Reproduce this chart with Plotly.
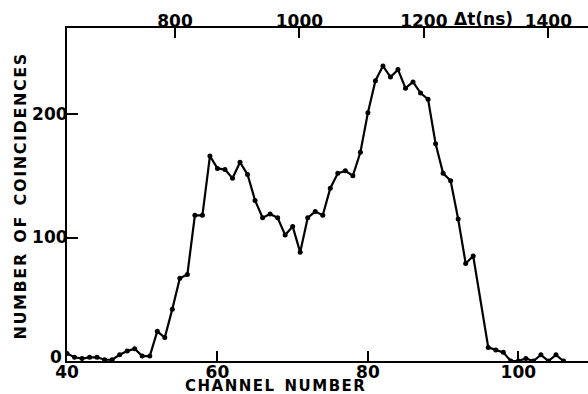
import plotly.graph_objects as go

channels = [40, 41, 42, 43, 44, 45, 46, 47, 48, 49, 50, 51, 52, 53, 54, 55, 56, 57, 58, 59,
            60, 61, 62, 63, 64, 65, 66, 67, 68, 69, 70, 71, 72, 73, 74, 75, 76, 77, 78, 79,
            80, 81, 82, 83, 84, 85, 86, 87, 88, 89, 90, 91, 92, 93, 94, 96, 97, 98, 99, 100,
            101, 102, 103, 104, 105, 106]
counts = [6, 3, 2, 3, 3, 1, 1, 5, 8, 10, 4, 4, 24, 19, 42, 67, 70, 118, 118, 166,
          156, 155, 148, 161, 151, 130, 116, 119, 116, 102, 109, 88, 116, 121, 118, 140, 152, 154, 150, 169,
          201, 227, 239, 230, 236, 221, 226, 217, 212, 176, 152, 146, 115, 79, 85, 11, 9, 7, 0, 0,
          2, 0, 5, 0, 5, 0]

bottom_ticks = [40, 60, 80, 100]
top_ticks = [800, 1000, 1200, 1400]
y_ticks = [0, 100, 200]

FONT = "DejaVu Sans"
HS = "\u200a"  # hair space for letter spacing


def spaced(s):
    return HS.join(list(s))


def bold(s):
    return "<b>" + s + "</b>"


fig = go.Figure()
fig.add_trace(go.Scatter(
    x=channels, y=counts, mode="lines+markers",
    line=dict(color="black", width=2.2),
    marker=dict(color="black", size=5),
    showlegend=False, hoverinfo="skip",
))
# invisible trace to activate the top axis
fig.add_trace(go.Scatter(x=[800], y=[0], xaxis="x2", mode="markers",
                         marker=dict(opacity=0), showlegend=False, hoverinfo="skip"))

# y tick labels: the "0" label sits slightly raised above the corner, as in the original
y_ticktext = ["" if t == 0 else bold(str(t)) for t in y_ticks]

fig.update_layout(
    width=588, height=394,
    margin=dict(l=67, r=0, t=28, b=33),
    paper_bgcolor="white", plot_bgcolor="white",
    font=dict(family=FONT, color="black", size=15),
    xaxis=dict(
        range=[40, 109.26], tickvals=bottom_ticks, ticktext=[bold(str(t)) for t in bottom_ticks],
        ticks="inside", ticklen=10, tickwidth=2, tickcolor="black",
        showline=True, linecolor="black", linewidth=2, showgrid=False, zeroline=False,
        tickfont=dict(size=17), ticklabelstandoff=-5,
    ),
    xaxis2=dict(
        overlaying="x", side="top", range=[626.4, 1463.8], tickvals=top_ticks,
        ticktext=[bold(str(t)) for t in top_ticks],
        ticks="inside", ticklen=10, tickwidth=2, tickcolor="black",
        showline=True, linecolor="black", linewidth=2, showgrid=False, zeroline=False,
        tickfont=dict(size=17), ticklabelstandoff=-8,
    ),
    yaxis=dict(
        range=[0, 269.7], tickvals=y_ticks, ticktext=y_ticktext,
        ticks="inside", ticklen=11, tickwidth=2, tickcolor="black",
        showline=True, linecolor="black", linewidth=2, showgrid=False, zeroline=False,
        tickfont=dict(size=17), ticklabelstandoff=-6,
    ),
    annotations=[
        dict(text=bold(str(y_ticks[0])), xref="paper", yref="y", x=0, y=y_ticks[0],
             xanchor="right", yanchor="middle", showarrow=False, xshift=-3, yshift=4,
             font=dict(size=17, family=FONT)),
        dict(text=bold(spaced("NUMBER") + "  " + spaced("OF") + "  " + spaced("COINCIDENCES")),
             xref="paper", yref="paper",
             x=-67/521, y=(361-197)/333, xanchor="left", yanchor="middle", textangle=-90,
             showarrow=False, xshift=8, font=dict(size=16, family=FONT)),
        dict(text=bold(spaced("CHANNEL") + "  " + spaced("NUMBER")), xref="paper", yref="paper",
             x=(275-67)/521, y=0, xanchor="center", yanchor="top", showarrow=False,
             yshift=-14, font=dict(size=15, family=FONT)),
        dict(text=bold("\u0394t(ns)"), xref="paper", yref="paper",
             x=(483-67)/521, y=1, xanchor="center", yanchor="bottom", showarrow=False,
             yshift=-3, font=dict(size=17, family=FONT)),
    ],
)

fig.write_html("out.html")
